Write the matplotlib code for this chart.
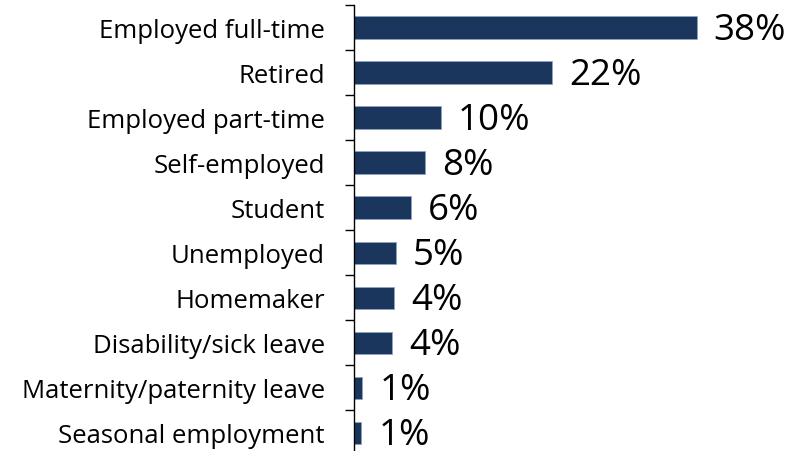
import matplotlib.pyplot as plt
import numpy as np

plt.rcParams['font.family'] = ['Open Sans', 'DejaVu Sans']

# data
categories = ['Employed full-time', 'Retired', 'Employed part-time', 'Self-employed',
              'Student', 'Unemployed', 'Homemaker', 'Disability/sick leave',
              'Maternity/paternity leave', 'Seasonal employment']
values = [37.9, 21.9, 9.6, 7.8, 6.3, 4.6, 4.4, 4.2, 0.9, 0.8]

fig = plt.figure(figsize=(7.99, 4.52), dpi=100)
ax = fig.add_axes([354 / 799, -4.5 / 452, 406.8 / 799, 450.5 / 452])

y = np.arange(len(categories))
ax.barh(y, values, height=0.5, color='#1B365D', edgecolor='#8FA3BF', linewidth=0.6)

ax.set_xlim(0, 45)
ax.set_ylim(len(categories) - 0.5, -0.5)

# value labels
for yi, v in zip(y, values):
    ax.text(v + 1.9, yi + 0.05, f'{round(v):.0f}%', ha='left', va='center',
            fontsize=26.5, color='black', clip_on=False)

# axes styling
for s in ['top', 'right', 'bottom']:
    ax.spines[s].set_visible(False)
ax.spines['left'].set_color('black')
ax.spines['left'].set_linewidth(1)
ax.set_xticks([])

ax.set_yticks(y)
ax.set_yticklabels(categories, fontsize=18.5)
ax.tick_params(axis='y', which='major', length=0, pad=21)
ax.set_yticks(np.arange(-0.5, len(categories), 1), minor=True)
ax.tick_params(axis='y', which='minor', length=6.5, width=1, color='black', direction='out')

fig.savefig('out.png', dpi=100)
